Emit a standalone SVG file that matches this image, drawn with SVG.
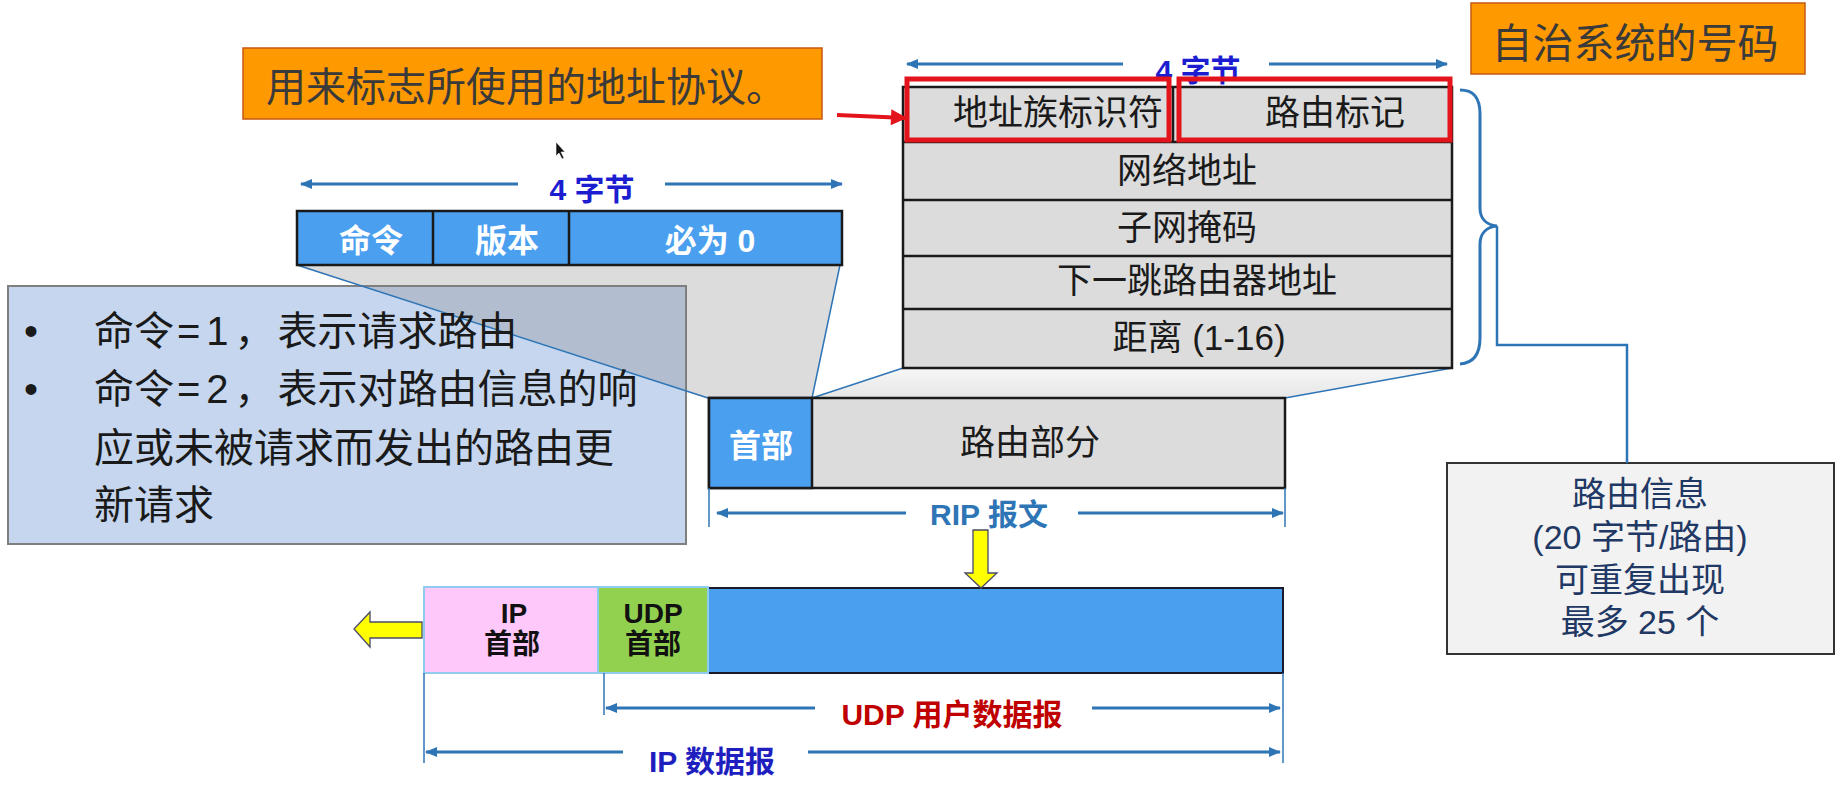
<svg xmlns="http://www.w3.org/2000/svg" width="1838" height="785" viewBox="0 0 1838 785">
<style>
text{font-family:'Liberation Sans','Noto Sans CJK SC',sans-serif;}
.dim{stroke:#2E75B6;stroke-width:3;fill:none;}
.tick{stroke:#2E75B6;stroke-width:1.5;fill:none;}
.edge{stroke:#2E75B6;stroke-width:1.5;fill:none;}
.cell{stroke:#1a1a1a;stroke-width:2.5;}
.gray{fill:#DCDCDC;}
.blue{fill:#4A9FEF;}
.tt{font-size:35px;fill:#1a1a1a;text-anchor:middle;}
.wb{font-size:32px;font-weight:bold;fill:#ffffff;text-anchor:middle;}
.note{font-size:40px;fill:#1a1a1a;}
.lab{font-size:30px;font-weight:bold;text-anchor:middle;}
.hdr{font-size:28px;font-weight:bold;fill:#111;text-anchor:middle;}
.info{font-size:34px;fill:#1F3864;text-anchor:middle;}
.yarrow{fill:#FFFF00;stroke:#4a4a6a;stroke-width:1.3;}
</style>
<defs>
<marker id="ah" viewBox="0 0 12 10" refX="11" refY="5" markerWidth="12" markerHeight="10" markerUnits="userSpaceOnUse" orient="auto">
<path d="M0,0 L12,5 L0,10 Z" fill="#2E75B6"/>
</marker>
<marker id="rah" viewBox="0 0 16 16" refX="15" refY="8" markerWidth="17" markerHeight="16" markerUnits="userSpaceOnUse" orient="auto">
<path d="M0,0 L16,8 L0,16 Z" fill="#E3141B"/>
</marker>
<linearGradient id="tg" x1="0" y1="0" x2="0" y2="1">
<stop offset="0" stop-color="#F7F7F7"/>
<stop offset="1" stop-color="#E6E6E6"/>
</linearGradient>
</defs>
<rect width="1838" height="785" fill="#ffffff"/>

<!-- explanation box -->
<g id="note-box">
<rect x="8" y="286" width="678" height="258" fill="#C5D6EE" stroke="#7F7F7F" stroke-width="2"/>
</g>

<!-- projection trapezoids -->
<g id="projections">
<polygon points="297,265 840,265 812,398 708,398" fill="#808080" fill-opacity="0.28"/>
<line class="edge" x1="297" y1="265" x2="708" y2="398"/>
<line class="edge" x1="840" y1="265" x2="812" y2="398"/>
<polygon points="903,368 1452,368 1285,398 812,398" fill="url(#tg)"/>
<line class="edge" x1="903" y1="368" x2="812" y2="398"/>
<line class="edge" x1="1452" y1="368" x2="1285" y2="398"/>
</g>

<g id="note-text">
<text x="24" y="345" class="note">•</text>
<text x="24" y="403" class="note">•</text>
<text x="94" y="345" class="note">命令<tspan dx="3">=</tspan><tspan dx="6">1</tspan><tspan dx="6">，</tspan><tspan dx="3">表示请求路由</tspan></text>
<text x="94" y="403" class="note">命令<tspan dx="3">=</tspan><tspan dx="6">2</tspan><tspan dx="6">，</tspan><tspan dx="3">表示对路由信息的响</tspan></text>
<text x="94" y="462" class="note">应或未被请求而发出的路由更</text>
<text x="94" y="519" class="note">新请求</text>
</g>

<!-- orange callouts -->
<g id="callout-family">
<rect x="243" y="48" width="579" height="71" fill="#FF9900" stroke="#C55A11" stroke-width="1.5"/>
<text x="266" y="101" font-size="40" fill="#3a3a3a">用来标志所使用的地址协议。</text>
</g>
<g id="callout-as">
<rect x="1471" y="3" width="334" height="71" fill="#FF9900" stroke="#C55A11" stroke-width="1.5"/>
<text x="1635" y="58" font-size="41" fill="#3a3a3a" text-anchor="middle">自治系统的号码</text>
</g>

<!-- RIP header (4 bytes) -->
<g id="rip-header">
<rect x="297" y="211" width="545" height="54" class="blue cell"/>
<line class="cell" x1="433" y1="211" x2="433" y2="265"/>
<line class="cell" x1="569" y1="211" x2="569" y2="265"/>
<text x="371" y="252" class="wb">命令</text>
<text x="507" y="252" class="wb">版本</text>
<text x="710" y="252" class="wb">必为 0</text>
</g>

<!-- route entry table -->
<g id="route-entry">
<rect x="903" y="87" width="549" height="281" class="gray cell"/>
<line class="cell" x1="903" y1="142" x2="1452" y2="142"/>
<line class="cell" x1="1173" y1="87" x2="1173" y2="142"/>
<line class="cell" x1="903" y1="200" x2="1452" y2="200"/>
<line class="cell" x1="903" y1="256" x2="1452" y2="256"/>
<line class="cell" x1="903" y1="309" x2="1452" y2="309"/>
<text x="1058" y="125" class="tt">地址族标识符</text>
<text x="1335" y="125" class="tt">路由标记</text>
<text x="1187" y="183" class="tt">网络地址</text>
<text x="1187" y="240" class="tt">子网掩码</text>
<text x="1197" y="293" class="tt">下一跳路由器地址</text>
<text x="1199" y="350" class="tt">距离 (1-16)</text>
</g>

<!-- RIP message -->
<g id="rip-message">
<rect x="709" y="398" width="576" height="90" class="gray cell"/>
<rect x="709" y="398" width="103" height="90" class="blue cell"/>
<text x="761" y="457" class="wb" font-size="34">首部</text>
<text x="1030" y="455" class="tt">路由部分</text>
</g>

<!-- IP datagram -->
<g id="ip-datagram">
<rect x="708" y="588" width="575" height="85" class="blue" stroke="#1a1a2a" stroke-width="2"/>
<rect x="424" y="587" width="174" height="86" fill="#FFC8FA" stroke="#8FCBF0" stroke-width="2"/>
<rect x="598" y="587" width="110" height="86" fill="#92D050" stroke="#8FCBF0" stroke-width="2"/>
<text x="514" y="623" class="hdr">IP</text>
<text x="512" y="654" class="hdr">首部</text>
<text x="653" y="623" class="hdr">UDP</text>
<text x="653" y="654" class="hdr">首部</text>
</g>

<!-- route info note -->
<g id="route-info">
<rect x="1447" y="463" width="387" height="191" fill="#F2F2F2" stroke="#333333" stroke-width="2"/>
<text x="1640" y="506" class="info">路由信息</text>
<text x="1640" y="549" class="info">(20 字节/路由)</text>
<text x="1640" y="592" class="info">可重复出现</text>
<text x="1640" y="634" class="info">最多 25 个</text>
</g>

<!-- connectors and dimension lines -->
<g id="connectors">
<line class="dim" x1="518" y1="184" x2="301" y2="184" marker-end="url(#ah)"/>
<line class="dim" x1="665" y1="184" x2="842" y2="184" marker-end="url(#ah)"/>
<text x="592" y="200" class="lab" fill="#1C1CD0">4 字节</text>

<line class="dim" x1="1123" y1="64" x2="907" y2="64" marker-end="url(#ah)"/>
<line class="dim" x1="1269" y1="64" x2="1447" y2="64" marker-end="url(#ah)"/>
<text x="1198" y="81" class="lab" fill="#1C1CD0">4 字节</text>

<line class="tick" x1="709" y1="488" x2="709" y2="527"/>
<line class="tick" x1="1285" y1="488" x2="1285" y2="527"/>
<line class="dim" x1="906" y1="513" x2="717" y2="513" marker-end="url(#ah)"/>
<line class="dim" x1="1078" y1="513" x2="1283" y2="513" marker-end="url(#ah)"/>
<text x="989" y="525" class="lab" fill="#2E75B6">RIP 报文</text>

<line class="tick" x1="604" y1="673" x2="604" y2="715"/>
<line class="tick" x1="1283" y1="673" x2="1283" y2="763"/>
<line class="tick" x1="424" y1="673" x2="424" y2="763"/>
<line class="dim" x1="815" y1="708" x2="606" y2="708" marker-end="url(#ah)"/>
<line class="dim" x1="1092" y1="708" x2="1280" y2="708" marker-end="url(#ah)"/>
<text x="952" y="725" class="lab" fill="#C00000">UDP 用户数据报</text>
<line class="dim" x1="623" y1="752" x2="426" y2="752" marker-end="url(#ah)"/>
<line class="dim" x1="808" y1="752" x2="1280" y2="752" marker-end="url(#ah)"/>
<text x="712" y="772" class="lab" fill="#1F1FBF">IP 数据报</text>

<path d="M1460,90 C1474,90 1480,98 1480,114 L1480,208 C1480,219 1487,225 1497,226 C1487,227 1480,233 1480,244 L1480,338 C1480,354 1474,363 1460,364" fill="none" stroke="#2E75B6" stroke-width="3"/>
<polyline points="1497,226 1497,345 1627,345 1627,463" fill="none" stroke="#2E75B6" stroke-width="2.5"/>

<line x1="837" y1="115" x2="906" y2="118" stroke="#E3141B" stroke-width="4" marker-end="url(#rah)"/>

<polygon class="yarrow" points="973,530 988,530 988,573 997,573 981,588 965,573 973,573"/>
<polygon class="yarrow" points="422,622 370,622 370,612 354,629 370,647 370,638 422,638"/>
</g>

<!-- red highlight frames -->
<g id="highlights">
<rect x="907" y="79" width="262" height="61" fill="none" stroke="#E3141B" stroke-width="5"/>
<rect x="1179" y="79" width="271" height="61" fill="none" stroke="#E3141B" stroke-width="5"/>
</g>

<!-- mouse pointer -->
<g id="pointer">
<polygon points="556,142 556,156 559,153 562,159 564,158 561,152 565,152" fill="#111" stroke="#fff" stroke-width="0.6"/>
</g>
</svg>
